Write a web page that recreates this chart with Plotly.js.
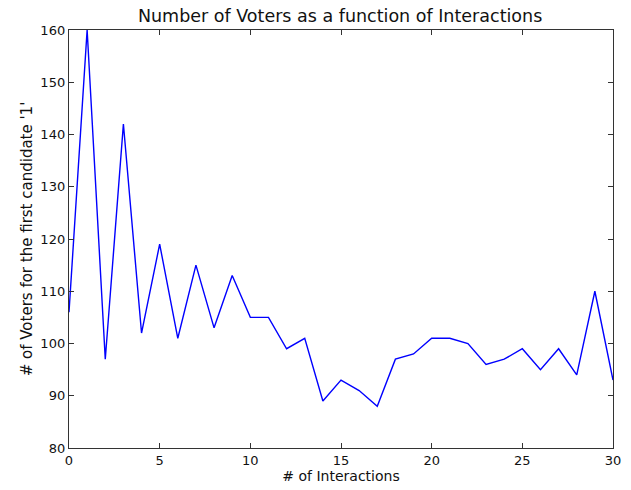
<!DOCTYPE html>
<html><head><meta charset="utf-8">
<script src="https://cdn.plot.ly/plotly-3.0.1.min.js"></script>
<style>html,body{margin:0;padding:0;background:#fff;}#chart{width:631px;height:490px;}</style>
</head><body><div id="chart"></div>
<script>
const interactions = [0,1,2,3,4,5,6,7,8,9,10,11,12,13,14,15,16,17,18,19,20,21,22,23,24,25,26,27,28,29,30];
const voters = [106,160,97,142,102,119,101,115,103,113,105,105,99,101,89,93,91,88,97,98,101,101,100,96,97,99,95,99,94,110,93];
const xTicks = [0,5,10,15,20,25,30];
const yTicks = [80,90,100,110,120,130,140,150,160];

const axisCommon = {
  showgrid:false, zeroline:false, showline:true, mirror:'ticks',
  linecolor:'#333', linewidth:1.2, ticks:'inside', ticklen:5, tickcolor:'#333',
  tickfont:{family:'DejaVu Sans', size:13, color:'#111'}
};
Plotly.newPlot('chart', [{
  x: interactions, y: voters, type:'scatter', mode:'lines',
  line:{color:'#0000ff', width:1.4}
}], {
  width:631, height:490,
  margin:{l:69, r:18, t:30, b:42},
  paper_bgcolor:'#fff', plot_bgcolor:'#fff',
  showlegend:false,
  title:{text:'Number of Voters as a function of Interactions', font:{family:'DejaVu Sans', size:17.5, color:'#111'}, x:0.539, xanchor:'center', y:0.967, yanchor:'middle'},
  xaxis:Object.assign({}, axisCommon, {range:[0,30], tickvals:xTicks, ticktext:xTicks.map(String),
    title:{text:'# of Interactions', font:{family:'DejaVu Sans', size:14, color:'#111'}, standoff:3}}),
  yaxis:Object.assign({}, axisCommon, {range:[80,160], tickvals:yTicks, ticktext:yTicks.map(String),
    title:{text:"# of Voters for the first candidate '1'", font:{family:'DejaVu Sans', size:15, color:'#111'}, standoff:4}})
}, {displayModeBar:false, staticPlot:true});
</script></body></html>
